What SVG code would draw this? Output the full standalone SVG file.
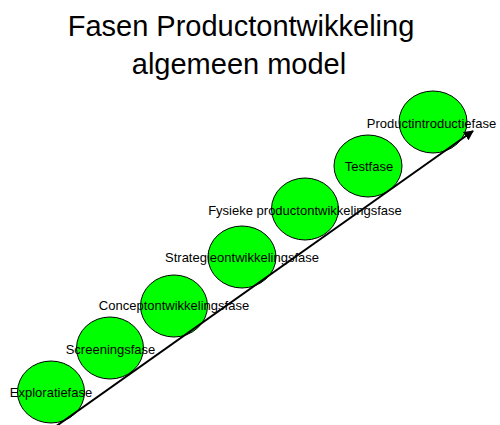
<svg xmlns="http://www.w3.org/2000/svg" width="500" height="425" viewBox="0 0 500 425">
<style>
.t{font-family:"Liberation Sans",Arial,sans-serif;fill:#000}
.title{font-size:29px;text-anchor:middle}
.lbl{font-size:13px;text-anchor:middle}
.phase{fill:#00ff00;stroke:#000;stroke-width:1}
.arrow{stroke:#000;stroke-width:2;fill:none}
</style>
<defs>
<marker id="ah" viewBox="0 0 10 10" refX="9" refY="5" markerWidth="5" markerHeight="5" orient="auto" markerUnits="strokeWidth">
<path d="M0,0 L10,5 L0,10 z" fill="#000"/>
</marker>
</defs>
<rect width="500" height="425" fill="#fff"/>
<g id="title">
<text class="t title" x="241" y="36">Fasen Productontwikkeling</text>
<text class="t title" x="239" y="74">algemeen model</text>
</g>
<g id="node-exploratie"><ellipse class="phase" cx="51" cy="392" rx="33.5" ry="31"/></g>
<g id="node-screening"><ellipse class="phase" cx="110" cy="348" rx="33.5" ry="31"/></g>
<g id="node-concept"><ellipse class="phase" cx="174" cy="306" rx="33.5" ry="31"/></g>
<g id="node-strategie"><ellipse class="phase" cx="242" cy="257" rx="34" ry="31"/></g>
<g id="node-fysieke"><ellipse class="phase" cx="305" cy="209" rx="33.5" ry="31"/></g>
<g id="node-test"><ellipse class="phase" cx="368" cy="166" rx="34" ry="31"/></g>
<g id="node-introductie"><ellipse class="phase" cx="433" cy="122" rx="34" ry="31"/></g>
<g id="connectors">
<line class="arrow" x1="55" y1="427" x2="473" y2="131" marker-end="url(#ah)"/>
</g>
<g id="labels">
<text class="t lbl" x="51" y="397">Exploratiefase</text>
<text class="t lbl" x="110.5" y="354">Screeningsfase</text>
<text class="t lbl" x="174" y="310">Conceptontwikkelingsfase</text>
<text class="t lbl" x="242" y="262">Strategieontwikkelingsfase</text>
<text class="t lbl" x="305" y="215">Fysieke productontwikkelingsfase</text>
<text class="t lbl" x="369" y="171">Testfase</text>
<text class="t lbl" x="431.5" y="128">Productintroductiefase</text>
</g>
</svg>
